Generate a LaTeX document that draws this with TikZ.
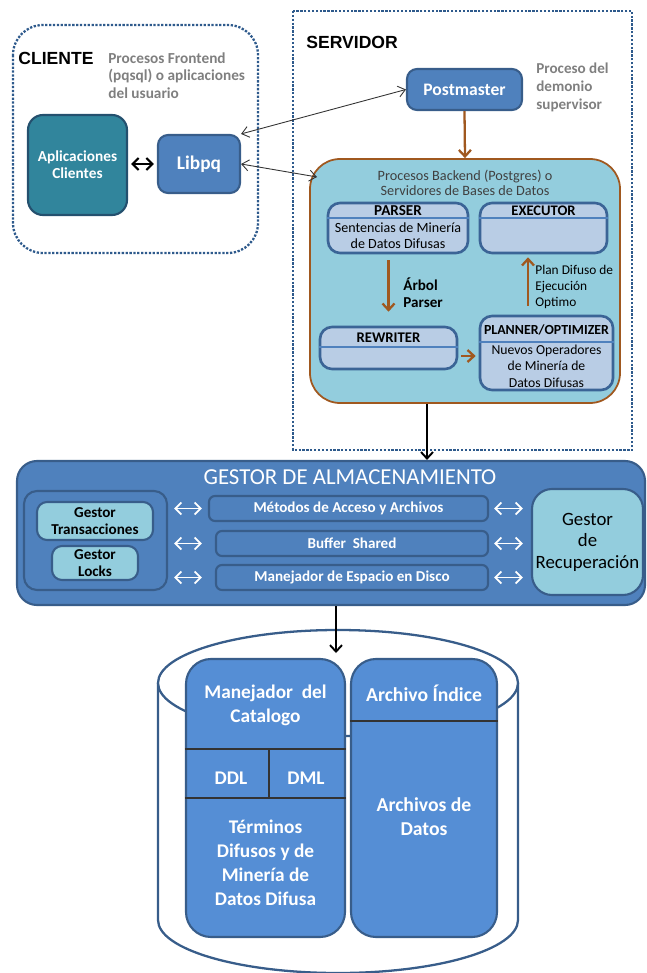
\documentclass[tikz,border=0pt]{standalone}
\usepackage{fontspec}
\setmainfont{Carlito}
\newfontfamily\headfont{Liberation Sans}
\usetikzlibrary{arrows.meta}

\definecolor{dotblue}{HTML}{2E5A8C}
\definecolor{boxblue}{HTML}{4F81BD}
\definecolor{boxline}{HTML}{385D8A}
\definecolor{tealfill}{HTML}{31859C}
\definecolor{tealline}{HTML}{24506E}
\definecolor{lightaqua}{HTML}{93CDDD}
\definecolor{paleblue}{HTML}{B9CDE5}
\definecolor{paleline}{HTML}{3B6496}
\definecolor{brownline}{HTML}{A0581F}
\definecolor{labelgray}{HTML}{7F7F7F}
\definecolor{diskblue}{HTML}{558ED5}

\tikzset{
  dotframe/.style={draw=dotblue, line width=1.3pt, dash pattern=on 1.3pt off 0.9pt},
  bluebox/.style={draw=boxline, fill=boxblue, line width=1.2pt, rounded corners=2mm, text=white, align=center, inner sep=0pt},
  aquabox/.style={draw=boxline, fill=lightaqua, line width=1.2pt, rounded corners=2mm, align=center, inner sep=0pt},
  stepbox/.style={draw=paleline, fill=paleblue, line width=1.5pt, rounded corners=2.4mm, inner sep=0pt},
  diskbox/.style={draw=boxline, fill=diskblue, line width=1.2pt, rounded corners=5mm, inner sep=0pt},
  sepline/.style={draw=boxblue, line width=0.6pt},
  cutline/.style={draw=black!80, line width=0.8pt},
  brarrow/.style={draw=brownline, line width=1.3pt, -{Straight Barb[length=1.3mm,width=2.4mm]}},
  linkarrow/.style={draw=black!80, line width=0.5pt, {Straight Barb[length=1.4mm,width=2.2mm]}-{Straight Barb[length=1.4mm,width=2.2mm]}},
  wharrow/.style={draw=white, line width=1pt, {Straight Barb[length=1.2mm,width=2.4mm]}-{Straight Barb[length=1.2mm,width=2.4mm]}},
  downarrow/.style={draw=black, line width=1.1pt, -{Straight Barb[length=1.3mm,width=2.4mm]}},
}

\begin{document}
\begin{tikzpicture}[x=0.2mm, y=-0.2mm]
  \useasboundingbox (0,0) rectangle (646,973);

  %Frames
  \draw[dotframe, rounded corners=6mm] (13,25) rectangle (258,253);
  \draw[dotframe] (293,11) rectangle (632,450);

  %Cliente
  \node[anchor=west, inner sep=0pt, font=\headfont\bfseries\fontsize{10}{12}\selectfont] (cliente) at (18,58) {CLIENTE};
  \node[anchor=west, inner sep=0pt, align=left, text=labelgray, font=\bfseries\fontsize{8.7}{9.9}\selectfont] (frontend) at (108,75.5) {Procesos Frontend\\(pqsql) o aplicaciones\\del usuario};
  \node[bluebox, fill=tealfill, draw=tealline, rounded corners=3mm, minimum width=19.8mm, minimum height=20mm, font=\bfseries\fontsize{8.7}{9.8}\selectfont] (apps) at (77.5,165) {Aplicaciones\\Clientes};
  \node[bluebox, minimum width=16.4mm, minimum height=11.6mm, font=\bfseries\fontsize{11}{13}\selectfont] (libpq) at (199,164) {Libpq};

  %Servidor
  \node[anchor=west, inner sep=0pt, font=\headfont\bfseries\fontsize{10}{12}\selectfont] (servidor) at (306,42) {SERVIDOR};
  \node[bluebox, minimum width=23mm, minimum height=8.2mm, font=\bfseries\fontsize{10}{12}\selectfont] (postmaster) at (464.5,89.5) {Postmaster};
  \node[anchor=west, inner sep=0pt, align=left, text=labelgray, font=\bfseries\fontsize{8.6}{10.2}\selectfont] (demonio) at (536,87) {Proceso del\\demonio\\supervisor};

  \node[draw=brownline, fill=lightaqua, line width=1pt, rounded corners=6mm, minimum width=62mm, minimum height=48.8mm] (backend) at (465,281) {};
  \node[align=center, inner sep=0pt, text=black!75, font=\fontsize{8.1}{8.6}\selectfont] (backendtitle) at (465,182.5) {Procesos Backend (Postgres) o\\Servidores de Bases de Datos};
  \coordinate (backendin) at (317,177);

  \node[stepbox, minimum width=28mm, minimum height=10mm] (parser) at (398,228) {};
  \node[inner sep=0pt, font=\bfseries\fontsize{8.6}{9}\selectfont] (parsertitle) at (398,211) {PARSER};
  \draw[sepline] (parser.west |- 0,218) -- (parser.east |- 0,218);
  \node[align=center, inner sep=0pt, font=\fontsize{8}{9}\selectfont] (parsertext) at (398,236) {Sentencias de Minería\\de Datos Difusas};

  \node[stepbox, minimum width=25.4mm, minimum height=10mm] (executor) at (543.5,228) {};
  \node[inner sep=0pt, font=\bfseries\fontsize{8.3}{9}\selectfont] (executortitle) at (543.5,211) {EXECUTOR};
  \draw[sepline] (executor.west |- 0,218) -- (executor.east |- 0,218);

  \node[stepbox, minimum width=27.4mm, minimum height=8.4mm] (rewriter) at (388.5,348) {};
  \node[inner sep=0pt, font=\bfseries\fontsize{8.4}{9}\selectfont] (rewritertitle) at (388.5,338) {REWRITER};
  \draw[sepline] (rewriter.west |- 0,347) -- (rewriter.east |- 0,347);

  \node[stepbox, minimum width=26.6mm, minimum height=14.8mm] (planner) at (546.5,353) {};
  \node[inner sep=0pt, font=\bfseries\fontsize{7.9}{9}\selectfont] (plannertitle) at (546.5,330) {PLANNER/OPTIMIZER};
  \draw[sepline] (planner.west |- 0,342) -- (planner.east |- 0,342);
  \node[align=center, inner sep=0pt, font=\fontsize{7.8}{9.4}\selectfont] (plannertext) at (546.5,366) {Nuevos Operadores\\de Minería de\\Datos Difusas};

  \node[anchor=west, align=left, inner sep=0pt, font=\bfseries\fontsize{8.6}{9.6}\selectfont] (arbol) at (403,292.5) {Árbol\\Parser};
  \node[anchor=west, align=left, inner sep=0pt, font=\fontsize{7.6}{9.1}\selectfont] (plan) at (535,287) {Plan Difuso de\\Ejecución\\Optimo};

  %Gestor de almacenamiento
  \node[bluebox, rounded corners=4mm, minimum width=125.6mm, minimum height=28.8mm] (storage) at (331,533) {};
  \node[inner sep=0pt, text=white, font=\fontsize{13}{14}\selectfont] (storagetitle) at (350,477) {GESTOR DE ALMACENAMIENTO};
  \node[bluebox, rounded corners=2.6mm, minimum width=28.6mm, minimum height=19.8mm] (lockpanel) at (95.5,540.5) {};
  \node[aquabox, minimum width=23.2mm, minimum height=7.6mm, font=\bfseries\fontsize{8.6}{9.6}\selectfont] (trans) at (95,521) {Gestor\\Transacciones};
  \node[aquabox, minimum width=17.2mm, minimum height=6.8mm, font=\bfseries\fontsize{8.6}{9.6}\selectfont] (locks) at (95,563) {Gestor\\Locks};
  \node[bluebox, rounded corners=1.2mm, minimum width=55.8mm, minimum height=5mm, font=\bfseries\fontsize{8.6}{9}\selectfont] (metodos) at (348.5,508.5) {Métodos de Acceso y Archivos};
  \node[bluebox, rounded corners=1.2mm, minimum width=54.4mm, minimum height=5mm, font=\bfseries\fontsize{8.6}{9}\selectfont] (buffer) at (352,543.5) {Buffer\ \ Shared};
  \node[bluebox, rounded corners=1.2mm, minimum width=54.4mm, minimum height=5mm, font=\bfseries\fontsize{8.6}{9}\selectfont] (manejador) at (352,577.5) {Manejador de Espacio en Disco};
  \node[aquabox, rounded corners=4mm, minimum width=22.2mm, minimum height=21.2mm, font=\fontsize{10.7}{12.2}\selectfont] (recup) at (587.5,542) {Gestor\\de\\Recuperación};

  %Disco
  \draw[draw=boxline, line width=1.3pt, fill=white] (158,683) -- (158,920) arc[start angle=180, end angle=360, x radius=36mm, y radius=10.6mm] -- (518,683);
  \draw[draw=boxline, line width=1.3pt, fill=white] (338,683) ellipse [x radius=36mm, y radius=10.6mm];
  \coordinate (disktop) at (336,653);

  \node[diskbox, minimum width=31.8mm, minimum height=55.6mm] (catalog) at (265.5,798) {};
  \draw[cutline] (catalog.west |- 0,749) -- (catalog.east |- 0,749);
  \draw[cutline] (catalog.west |- 0,798) -- (catalog.east |- 0,798);
  \draw[cutline] (269,749) -- (269,798);
  \node[align=center, inner sep=0pt, text=white, font=\bfseries\fontsize{11}{14}\selectfont] (catalogtitle) at (265.5,705.5) {Manejador\ \ del\\Catalogo};
  \node[inner sep=0pt, text=white, font=\bfseries\fontsize{11}{13}\selectfont] (ddl) at (231,778) {DDL};
  \node[inner sep=0pt, text=white, font=\bfseries\fontsize{11}{13}\selectfont] (dml) at (306,778) {DML};
  \node[align=center, inner sep=0pt, text=white, font=\bfseries\fontsize{11}{13.6}\selectfont] (terminos) at (265.5,862.5) {Términos\\Difusos y de\\Minería de\\Datos Difusa};

  \node[diskbox, minimum width=29.2mm, minimum height=55.6mm] (datos) at (424,798) {};
  \draw[cutline] (datos.west |- 0,721) -- (datos.east |- 0,721);
  \node[inner sep=0pt, text=white, font=\bfseries\fontsize{11.2}{13}\selectfont] (indice) at (424,693) {Archivo Índice};
  \node[align=center, inner sep=0pt, text=white, font=\bfseries\fontsize{11.2}{13.6}\selectfont] (archivos) at (424,816.5) {Archivos de\\Datos};

  %Lines
  \draw[line width=1.2pt, {Straight Barb[length=1.2mm,width=2.4mm]}-{Straight Barb[length=1.2mm,width=2.4mm]}, shorten <=0.6mm, shorten >=0.6mm] (apps.east |- libpq.west) -- (libpq.west);
  \draw[linkarrow] (libpq.north east) -- (postmaster.west);
  \draw[linkarrow] (libpq.east) -- (backendin);
  \draw[brarrow] (postmaster.south) -- (backend.north);
  \draw[brarrow, shorten <=1.2mm, shorten >=2.8mm] (parser.south -| rewriter.north) -- (rewriter.north);
  \draw[brarrow, shorten <=1.8mm, shorten >=0.6mm] ([xshift=-3.7mm]planner.north) -- ([xshift=-3.7mm]planner.north |- executor.south);
  \draw[brarrow, shorten <=0.6mm, shorten >=0.6mm] ([yshift=-1.6mm]rewriter.east) -- ([yshift=-1.6mm]rewriter.east -| planner.west);
  \draw[downarrow] ([xshift=-7.6mm]backend.south) -- ([xshift=-7.6mm]backend.south |- storage.north);
  \foreach \bar/\gap in {metodos/1.2mm, buffer/2.6mm, manejador/2.6mm}{
    \draw[wharrow, shorten <=1.2mm, shorten >=\gap] (lockpanel.east |- \bar.west) -- (\bar.west);
    \draw[wharrow, shorten <=1mm, shorten >=1.6mm] (\bar.east) -- (\bar.east -| recup.west);
  }
  \draw[downarrow] ([xshift=1mm]storage.south) -- (disktop);
\end{tikzpicture}
\end{document}
